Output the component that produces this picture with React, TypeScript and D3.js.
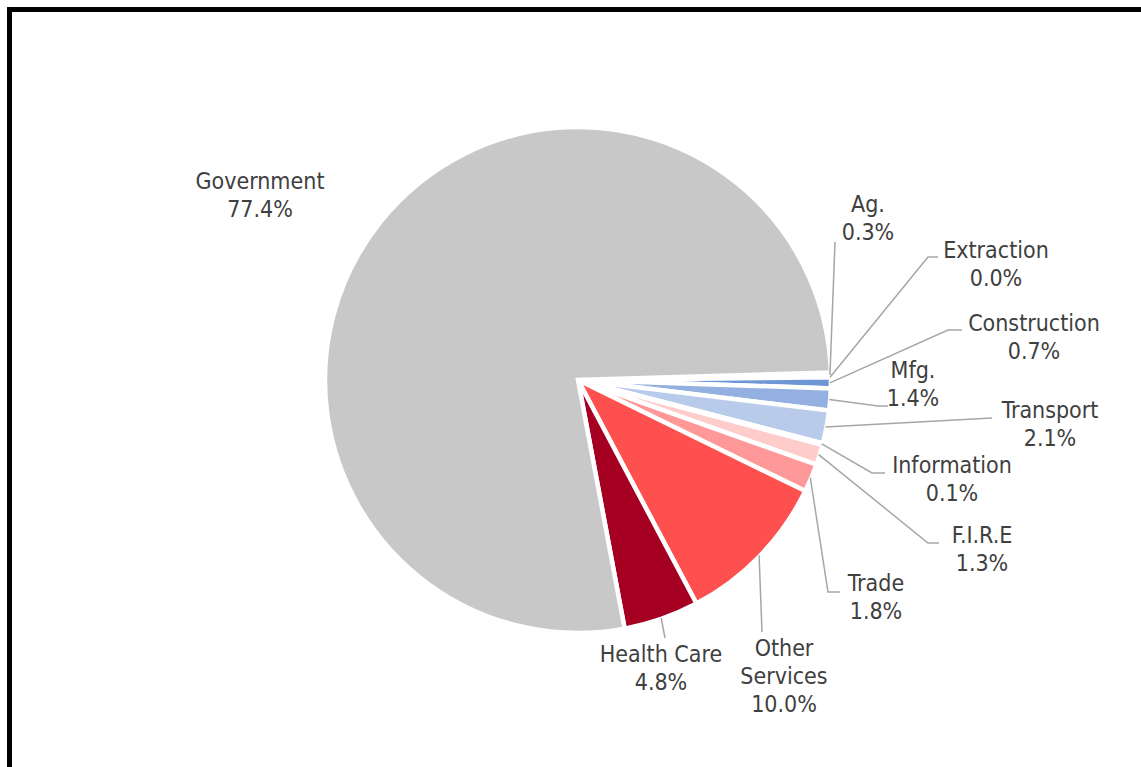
import React from 'react';
import * as d3 from 'd3';

// sector shares of employment, in pie order (clockwise from just above 3 o'clock)
const sectors = ['Ag.', 'Extraction', 'Construction', 'Mfg.', 'Transport', 'Information', 'F.I.R.E', 'Trade', 'Other Services', 'Health Care', 'Government'];
const shares = [0.3, 0.0, 0.7, 1.4, 2.1, 0.1, 1.3, 1.8, 10.0, 4.8, 77.4];
const sliceColors = ['#2F5597', '#203864', '#6E96D6', '#93B0E0', '#B9CBEA', '#FFE1E1', '#FFCCCC', '#FF9999', '#FF5050', '#A50021', '#C8C8C8'];

// label placement (centre of first text line) and leader path beyond the pie edge
const labelLayout: { x: number; y: number; lines: string[]; leader: [number, number][] | null }[] = [
  { x: 868, y: 204, lines: ['Ag.', '0.3%'], leader: [[835, 242]] },
  { x: 996, y: 250, lines: ['Extraction', '0.0%'], leader: [[928, 257], [938, 257]] },
  { x: 1034, y: 323, lines: ['Construction', '0.7%'], leader: [[948, 330], [962, 330]] },
  { x: 913, y: 370, lines: ['Mfg.', '1.4%'], leader: [[878, 406], [888, 406]] },
  { x: 1050, y: 410, lines: ['Transport', '2.1%'], leader: [[992, 418]] },
  { x: 952, y: 465, lines: ['Information', '0.1%'], leader: [[872, 473], [885, 473]] },
  { x: 982, y: 535, lines: ['F.I.R.E', '1.3%'], leader: [[928, 543], [939, 543]] },
  { x: 876, y: 583, lines: ['Trade', '1.8%'], leader: [[828, 592], [840, 592]] },
  { x: 784, y: 648, lines: ['Other', 'Services', '10.0%'], leader: [[762, 632]] },
  { x: 661, y: 654, lines: ['Health Care', '4.8%'], leader: [[665, 638]] },
  { x: 260, y: 181, lines: ['Government', '77.4%'], leader: null },
];

const W = 1141;
const H = 767;
const cx = 578;
const cy = 380;
const radius = 253;
const startDeg = 88.3;
const lineGap = 28;

const App: React.FC = () => {
  const start = (startDeg * Math.PI) / 180;
  const pie = d3.pie<number>().sort(null).startAngle(start).endAngle(start + 2 * Math.PI);
  const arcs = pie(shares);
  const arc = d3.arc<d3.PieArcDatum<number>>().innerRadius(0).outerRadius(radius);
  const line = d3.line();

  return (
    <div style={{ position: 'absolute', left: 0, top: 0 }}>
      <svg width={W} height={H} style={{ display: 'block', background: '#fff' }}>
        <rect x={9.5} y={9.5} width={W + 20} height={H + 20} fill="#fff" stroke="#000" strokeWidth={5} />
        <g transform={`translate(${cx},${cy})`}>
          {arcs.map((a, i) => (
            <path key={sectors[i]} d={arc(a) || ''} fill={sliceColors[i]} stroke="#fff" strokeWidth={4.5} strokeLinejoin="miter" />
          ))}
        </g>
        {arcs.map((a, i) => {
          const lay = labelLayout[i];
          if (!lay.leader) return null;
          const mid = (a.startAngle + a.endAngle) / 2;
          const r = radius - 1;
          const p0: [number, number] = [cx + r * Math.sin(mid), cy - r * Math.cos(mid)];
          return (
            <path key={'l' + i} d={line([p0, ...lay.leader]) || ''} fill="none" stroke="#A6A6A6" strokeWidth={1.5} />
          );
        })}
        {labelLayout.map((lay, i) => (
          <text key={'t' + i} x={lay.x} textAnchor="middle" fill="#404040"
            style={{ fontFamily: '"DejaVu Sans Condensed", "DejaVu Sans", sans-serif', fontSize: 23 }}>
            {lay.lines.map((s, j) => (
              <tspan key={j} x={lay.x} y={lay.y + j * lineGap} dominantBaseline="central">{s}</tspan>
            ))}
          </text>
        ))}
      </svg>
    </div>
  );
};

export default App;
